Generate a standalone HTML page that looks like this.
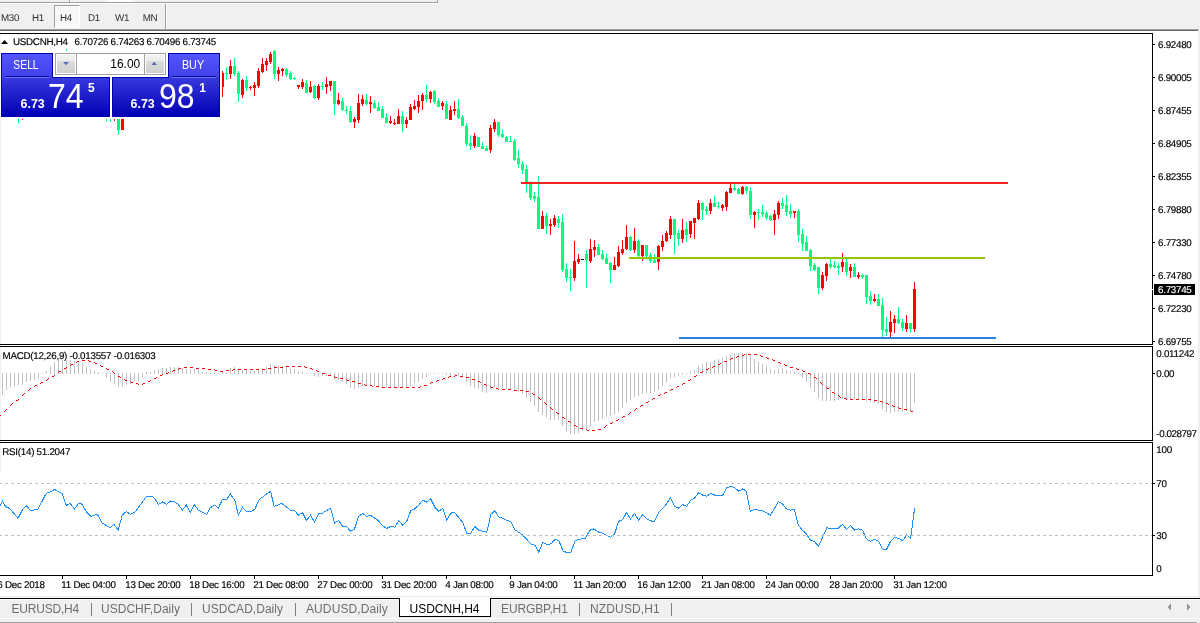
<!DOCTYPE html>
<html><head><meta charset="utf-8"><title>USDCNH,H4</title><style>
html,body{margin:0;padding:0}
body{width:1200px;height:623px;overflow:hidden;background:#fff;position:relative;font-family:"Liberation Sans",sans-serif}
div{position:absolute;box-sizing:border-box}
.t{white-space:nowrap;font-size:9.8px;letter-spacing:-0.27px;line-height:12px;color:#000;text-rendering:geometricPrecision;-webkit-text-stroke:0.15px #000}
.tb{white-space:nowrap;font-size:9.8px;letter-spacing:-0.27px;line-height:12px;color:#303030;text-rendering:geometricPrecision;width:28px;text-align:center;top:13px}
.tab{white-space:nowrap;font-size:12px;line-height:14px;color:#6e6e6e;top:602px}
.sep{top:603px;width:1px;height:13px;background:#808080}
svg{position:absolute;left:0;top:0}
.pt{white-space:nowrap}</style></head><body>
<div style="left:0;top:0;width:1200px;height:29px;background:#f0f0f0"></div>
<div style="left:0;top:2px;width:438px;height:1px;background:#a0a0a0"></div>
<div style="left:0;top:3px;width:438px;height:1px;background:#fff"></div>
<div style="left:437px;top:0;width:1px;height:3px;background:#a0a0a0"></div>
<div style="left:69px;top:0;width:1px;height:2px;background:#a0a0a0"></div>
<div style="left:70px;top:0;width:1px;height:2px;background:#fff"></div>
<div style="left:107px;top:0;width:26px;height:2px;background:#fff"></div>
<div style="left:0;top:29px;width:1199px;height:1px;background:#a0a0a0"></div>
<div style="left:0;top:30px;width:1198px;height:1px;background:#696969"></div>
<div style="left:1198px;top:30px;width:2px;height:593px;background:#f0f0f0"></div>
<div style="left:0;top:34px;width:1px;height:440px;background:#f2f2f2"></div>
<div style="left:54px;top:5px;width:26px;height:23px;background:#f8f8f8;border-left:1px solid #a0a0a0;border-top:1px solid #a0a0a0;border-right:1px solid #fff;border-bottom:1px solid #fff"></div>
<div class="tb" style="left:-4px">M30</div>
<div class="tb" style="left:24px">H1</div>
<div class="tb" style="left:52px">H4</div>
<div class="tb" style="left:80px">D1</div>
<div class="tb" style="left:108px">W1</div>
<div class="tb" style="left:136px">MN</div>
<div style="left:165px;top:4px;width:1px;height:25px;background:#a0a0a0"></div>
<div style="left:166px;top:4px;width:1px;height:25px;background:#fff"></div>
<svg width="1200" height="623" shape-rendering="crispEdges">
<rect x="2" y="373" width="1" height="22" fill="#c0c0c0"/>
<rect x="6" y="373" width="1" height="17" fill="#c0c0c0"/>
<rect x="10" y="373" width="1" height="14" fill="#c0c0c0"/>
<rect x="14" y="373" width="1" height="13" fill="#c0c0c0"/>
<rect x="18" y="373" width="1" height="12" fill="#c0c0c0"/>
<rect x="22" y="373" width="1" height="12" fill="#c0c0c0"/>
<rect x="26" y="373" width="1" height="9" fill="#c0c0c0"/>
<rect x="30" y="373" width="1" height="8" fill="#c0c0c0"/>
<rect x="34" y="373" width="1" height="7" fill="#c0c0c0"/>
<rect x="38" y="373" width="1" height="5" fill="#c0c0c0"/>
<rect x="42" y="373" width="1" height="1" fill="#c0c0c0"/>
<rect x="46" y="371" width="1" height="3" fill="#c0c0c0"/>
<rect x="50" y="367" width="1" height="7" fill="#c0c0c0"/>
<rect x="54" y="362" width="1" height="12" fill="#c0c0c0"/>
<rect x="58" y="360" width="1" height="14" fill="#c0c0c0"/>
<rect x="62" y="360" width="1" height="14" fill="#c0c0c0"/>
<rect x="66" y="360" width="1" height="14" fill="#c0c0c0"/>
<rect x="70" y="360" width="1" height="14" fill="#c0c0c0"/>
<rect x="74" y="361" width="1" height="13" fill="#c0c0c0"/>
<rect x="78" y="362" width="1" height="12" fill="#c0c0c0"/>
<rect x="82" y="363" width="1" height="11" fill="#c0c0c0"/>
<rect x="86" y="366" width="1" height="8" fill="#c0c0c0"/>
<rect x="90" y="369" width="1" height="5" fill="#c0c0c0"/>
<rect x="94" y="371" width="1" height="3" fill="#c0c0c0"/>
<rect x="98" y="372" width="1" height="2" fill="#c0c0c0"/>
<rect x="102" y="373" width="1" height="1" fill="#c0c0c0"/>
<rect x="106" y="373" width="1" height="5" fill="#c0c0c0"/>
<rect x="110" y="373" width="1" height="9" fill="#c0c0c0"/>
<rect x="114" y="373" width="1" height="11" fill="#c0c0c0"/>
<rect x="118" y="373" width="1" height="14" fill="#c0c0c0"/>
<rect x="122" y="373" width="1" height="14" fill="#c0c0c0"/>
<rect x="126" y="373" width="1" height="12" fill="#c0c0c0"/>
<rect x="130" y="373" width="1" height="11" fill="#c0c0c0"/>
<rect x="134" y="373" width="1" height="8" fill="#c0c0c0"/>
<rect x="138" y="373" width="1" height="8" fill="#c0c0c0"/>
<rect x="142" y="373" width="1" height="5" fill="#c0c0c0"/>
<rect x="146" y="372" width="1" height="2" fill="#c0c0c0"/>
<rect x="150" y="372" width="1" height="2" fill="#c0c0c0"/>
<rect x="154" y="370" width="1" height="4" fill="#c0c0c0"/>
<rect x="158" y="369" width="1" height="5" fill="#c0c0c0"/>
<rect x="162" y="368" width="1" height="6" fill="#c0c0c0"/>
<rect x="166" y="368" width="1" height="6" fill="#c0c0c0"/>
<rect x="170" y="367" width="1" height="7" fill="#c0c0c0"/>
<rect x="174" y="367" width="1" height="7" fill="#c0c0c0"/>
<rect x="178" y="367" width="1" height="7" fill="#c0c0c0"/>
<rect x="182" y="368" width="1" height="6" fill="#c0c0c0"/>
<rect x="186" y="369" width="1" height="5" fill="#c0c0c0"/>
<rect x="190" y="369" width="1" height="5" fill="#c0c0c0"/>
<rect x="194" y="369" width="1" height="5" fill="#c0c0c0"/>
<rect x="198" y="370" width="1" height="4" fill="#c0c0c0"/>
<rect x="202" y="372" width="1" height="2" fill="#c0c0c0"/>
<rect x="206" y="372" width="1" height="2" fill="#c0c0c0"/>
<rect x="210" y="373" width="1" height="1" fill="#c0c0c0"/>
<rect x="214" y="373" width="1" height="1" fill="#c0c0c0"/>
<rect x="218" y="373" width="1" height="1" fill="#c0c0c0"/>
<rect x="222" y="372" width="1" height="2" fill="#c0c0c0"/>
<rect x="226" y="372" width="1" height="2" fill="#c0c0c0"/>
<rect x="230" y="368" width="1" height="6" fill="#c0c0c0"/>
<rect x="234" y="367" width="1" height="7" fill="#c0c0c0"/>
<rect x="238" y="369" width="1" height="5" fill="#c0c0c0"/>
<rect x="242" y="370" width="1" height="4" fill="#c0c0c0"/>
<rect x="246" y="370" width="1" height="4" fill="#c0c0c0"/>
<rect x="250" y="371" width="1" height="3" fill="#c0c0c0"/>
<rect x="254" y="371" width="1" height="3" fill="#c0c0c0"/>
<rect x="258" y="370" width="1" height="4" fill="#c0c0c0"/>
<rect x="262" y="368" width="1" height="6" fill="#c0c0c0"/>
<rect x="266" y="367" width="1" height="7" fill="#c0c0c0"/>
<rect x="270" y="364" width="1" height="10" fill="#c0c0c0"/>
<rect x="274" y="365" width="1" height="9" fill="#c0c0c0"/>
<rect x="278" y="366" width="1" height="8" fill="#c0c0c0"/>
<rect x="282" y="366" width="1" height="8" fill="#c0c0c0"/>
<rect x="286" y="367" width="1" height="7" fill="#c0c0c0"/>
<rect x="290" y="368" width="1" height="6" fill="#c0c0c0"/>
<rect x="294" y="369" width="1" height="5" fill="#c0c0c0"/>
<rect x="298" y="371" width="1" height="3" fill="#c0c0c0"/>
<rect x="302" y="372" width="1" height="2" fill="#c0c0c0"/>
<rect x="306" y="373" width="1" height="1" fill="#c0c0c0"/>
<rect x="310" y="373" width="1" height="1" fill="#c0c0c0"/>
<rect x="314" y="373" width="1" height="3" fill="#c0c0c0"/>
<rect x="318" y="373" width="1" height="4" fill="#c0c0c0"/>
<rect x="322" y="373" width="1" height="3" fill="#c0c0c0"/>
<rect x="326" y="373" width="1" height="3" fill="#c0c0c0"/>
<rect x="330" y="373" width="1" height="3" fill="#c0c0c0"/>
<rect x="334" y="373" width="1" height="6" fill="#c0c0c0"/>
<rect x="338" y="373" width="1" height="7" fill="#c0c0c0"/>
<rect x="342" y="373" width="1" height="9" fill="#c0c0c0"/>
<rect x="346" y="373" width="1" height="11" fill="#c0c0c0"/>
<rect x="350" y="373" width="1" height="15" fill="#c0c0c0"/>
<rect x="354" y="373" width="1" height="16" fill="#c0c0c0"/>
<rect x="358" y="373" width="1" height="15" fill="#c0c0c0"/>
<rect x="362" y="373" width="1" height="13" fill="#c0c0c0"/>
<rect x="366" y="373" width="1" height="13" fill="#c0c0c0"/>
<rect x="370" y="373" width="1" height="13" fill="#c0c0c0"/>
<rect x="374" y="373" width="1" height="13" fill="#c0c0c0"/>
<rect x="378" y="373" width="1" height="14" fill="#c0c0c0"/>
<rect x="382" y="373" width="1" height="15" fill="#c0c0c0"/>
<rect x="386" y="373" width="1" height="15" fill="#c0c0c0"/>
<rect x="390" y="373" width="1" height="15" fill="#c0c0c0"/>
<rect x="394" y="373" width="1" height="15" fill="#c0c0c0"/>
<rect x="398" y="373" width="1" height="15" fill="#c0c0c0"/>
<rect x="402" y="373" width="1" height="15" fill="#c0c0c0"/>
<rect x="406" y="373" width="1" height="15" fill="#c0c0c0"/>
<rect x="410" y="373" width="1" height="13" fill="#c0c0c0"/>
<rect x="414" y="373" width="1" height="10" fill="#c0c0c0"/>
<rect x="418" y="373" width="1" height="9" fill="#c0c0c0"/>
<rect x="422" y="373" width="1" height="6" fill="#c0c0c0"/>
<rect x="426" y="373" width="1" height="4" fill="#c0c0c0"/>
<rect x="430" y="373" width="1" height="1" fill="#c0c0c0"/>
<rect x="434" y="373" width="1" height="1" fill="#c0c0c0"/>
<rect x="438" y="373" width="1" height="1" fill="#c0c0c0"/>
<rect x="442" y="373" width="1" height="1" fill="#c0c0c0"/>
<rect x="446" y="373" width="1" height="2" fill="#c0c0c0"/>
<rect x="450" y="373" width="1" height="3" fill="#c0c0c0"/>
<rect x="454" y="373" width="1" height="2" fill="#c0c0c0"/>
<rect x="458" y="373" width="1" height="3" fill="#c0c0c0"/>
<rect x="462" y="373" width="1" height="4" fill="#c0c0c0"/>
<rect x="466" y="373" width="1" height="9" fill="#c0c0c0"/>
<rect x="470" y="373" width="1" height="13" fill="#c0c0c0"/>
<rect x="474" y="373" width="1" height="15" fill="#c0c0c0"/>
<rect x="478" y="373" width="1" height="16" fill="#c0c0c0"/>
<rect x="482" y="373" width="1" height="19" fill="#c0c0c0"/>
<rect x="486" y="373" width="1" height="20" fill="#c0c0c0"/>
<rect x="490" y="373" width="1" height="16" fill="#c0c0c0"/>
<rect x="494" y="373" width="1" height="15" fill="#c0c0c0"/>
<rect x="498" y="373" width="1" height="15" fill="#c0c0c0"/>
<rect x="502" y="373" width="1" height="15" fill="#c0c0c0"/>
<rect x="506" y="373" width="1" height="16" fill="#c0c0c0"/>
<rect x="510" y="373" width="1" height="17" fill="#c0c0c0"/>
<rect x="514" y="373" width="1" height="18" fill="#c0c0c0"/>
<rect x="518" y="373" width="1" height="19" fill="#c0c0c0"/>
<rect x="522" y="373" width="1" height="21" fill="#c0c0c0"/>
<rect x="526" y="373" width="1" height="25" fill="#c0c0c0"/>
<rect x="530" y="373" width="1" height="29" fill="#c0c0c0"/>
<rect x="534" y="373" width="1" height="33" fill="#c0c0c0"/>
<rect x="538" y="373" width="1" height="39" fill="#c0c0c0"/>
<rect x="542" y="373" width="1" height="42" fill="#c0c0c0"/>
<rect x="546" y="373" width="1" height="44" fill="#c0c0c0"/>
<rect x="550" y="373" width="1" height="47" fill="#c0c0c0"/>
<rect x="554" y="373" width="1" height="47" fill="#c0c0c0"/>
<rect x="558" y="373" width="1" height="47" fill="#c0c0c0"/>
<rect x="562" y="373" width="1" height="53" fill="#c0c0c0"/>
<rect x="566" y="373" width="1" height="59" fill="#c0c0c0"/>
<rect x="570" y="373" width="1" height="61" fill="#c0c0c0"/>
<rect x="574" y="373" width="1" height="61" fill="#c0c0c0"/>
<rect x="578" y="373" width="1" height="60" fill="#c0c0c0"/>
<rect x="582" y="373" width="1" height="58" fill="#c0c0c0"/>
<rect x="586" y="373" width="1" height="57" fill="#c0c0c0"/>
<rect x="590" y="373" width="1" height="53" fill="#c0c0c0"/>
<rect x="594" y="373" width="1" height="49" fill="#c0c0c0"/>
<rect x="598" y="373" width="1" height="48" fill="#c0c0c0"/>
<rect x="602" y="373" width="1" height="46" fill="#c0c0c0"/>
<rect x="606" y="373" width="1" height="44" fill="#c0c0c0"/>
<rect x="610" y="373" width="1" height="43" fill="#c0c0c0"/>
<rect x="614" y="373" width="1" height="41" fill="#c0c0c0"/>
<rect x="618" y="373" width="1" height="39" fill="#c0c0c0"/>
<rect x="622" y="373" width="1" height="35" fill="#c0c0c0"/>
<rect x="626" y="373" width="1" height="30" fill="#c0c0c0"/>
<rect x="630" y="373" width="1" height="27" fill="#c0c0c0"/>
<rect x="634" y="373" width="1" height="24" fill="#c0c0c0"/>
<rect x="638" y="373" width="1" height="23" fill="#c0c0c0"/>
<rect x="642" y="373" width="1" height="21" fill="#c0c0c0"/>
<rect x="646" y="373" width="1" height="20" fill="#c0c0c0"/>
<rect x="650" y="373" width="1" height="20" fill="#c0c0c0"/>
<rect x="654" y="373" width="1" height="19" fill="#c0c0c0"/>
<rect x="658" y="373" width="1" height="17" fill="#c0c0c0"/>
<rect x="662" y="373" width="1" height="13" fill="#c0c0c0"/>
<rect x="666" y="373" width="1" height="10" fill="#c0c0c0"/>
<rect x="670" y="373" width="1" height="5" fill="#c0c0c0"/>
<rect x="674" y="373" width="1" height="4" fill="#c0c0c0"/>
<rect x="678" y="373" width="1" height="3" fill="#c0c0c0"/>
<rect x="682" y="373" width="1" height="2" fill="#c0c0c0"/>
<rect x="686" y="373" width="1" height="1" fill="#c0c0c0"/>
<rect x="690" y="372" width="1" height="2" fill="#c0c0c0"/>
<rect x="694" y="370" width="1" height="4" fill="#c0c0c0"/>
<rect x="698" y="366" width="1" height="8" fill="#c0c0c0"/>
<rect x="702" y="364" width="1" height="10" fill="#c0c0c0"/>
<rect x="706" y="362" width="1" height="12" fill="#c0c0c0"/>
<rect x="710" y="362" width="1" height="12" fill="#c0c0c0"/>
<rect x="714" y="360" width="1" height="14" fill="#c0c0c0"/>
<rect x="718" y="359" width="1" height="15" fill="#c0c0c0"/>
<rect x="722" y="358" width="1" height="16" fill="#c0c0c0"/>
<rect x="726" y="356" width="1" height="18" fill="#c0c0c0"/>
<rect x="730" y="355" width="1" height="19" fill="#c0c0c0"/>
<rect x="734" y="353" width="1" height="21" fill="#c0c0c0"/>
<rect x="738" y="353" width="1" height="21" fill="#c0c0c0"/>
<rect x="742" y="353" width="1" height="21" fill="#c0c0c0"/>
<rect x="746" y="353" width="1" height="21" fill="#c0c0c0"/>
<rect x="750" y="356" width="1" height="18" fill="#c0c0c0"/>
<rect x="754" y="359" width="1" height="15" fill="#c0c0c0"/>
<rect x="758" y="362" width="1" height="12" fill="#c0c0c0"/>
<rect x="762" y="364" width="1" height="10" fill="#c0c0c0"/>
<rect x="766" y="366" width="1" height="8" fill="#c0c0c0"/>
<rect x="770" y="369" width="1" height="5" fill="#c0c0c0"/>
<rect x="774" y="370" width="1" height="4" fill="#c0c0c0"/>
<rect x="778" y="369" width="1" height="5" fill="#c0c0c0"/>
<rect x="782" y="368" width="1" height="6" fill="#c0c0c0"/>
<rect x="786" y="370" width="1" height="4" fill="#c0c0c0"/>
<rect x="790" y="372" width="1" height="2" fill="#c0c0c0"/>
<rect x="794" y="372" width="1" height="2" fill="#c0c0c0"/>
<rect x="798" y="373" width="1" height="1" fill="#c0c0c0"/>
<rect x="802" y="373" width="1" height="5" fill="#c0c0c0"/>
<rect x="806" y="373" width="1" height="9" fill="#c0c0c0"/>
<rect x="810" y="373" width="1" height="15" fill="#c0c0c0"/>
<rect x="814" y="373" width="1" height="19" fill="#c0c0c0"/>
<rect x="818" y="373" width="1" height="25" fill="#c0c0c0"/>
<rect x="822" y="373" width="1" height="28" fill="#c0c0c0"/>
<rect x="826" y="373" width="1" height="28" fill="#c0c0c0"/>
<rect x="830" y="373" width="1" height="28" fill="#c0c0c0"/>
<rect x="834" y="373" width="1" height="28" fill="#c0c0c0"/>
<rect x="838" y="373" width="1" height="27" fill="#c0c0c0"/>
<rect x="842" y="373" width="1" height="26" fill="#c0c0c0"/>
<rect x="846" y="373" width="1" height="26" fill="#c0c0c0"/>
<rect x="850" y="373" width="1" height="26" fill="#c0c0c0"/>
<rect x="854" y="373" width="1" height="26" fill="#c0c0c0"/>
<rect x="858" y="373" width="1" height="27" fill="#c0c0c0"/>
<rect x="862" y="373" width="1" height="27" fill="#c0c0c0"/>
<rect x="866" y="373" width="1" height="28" fill="#c0c0c0"/>
<rect x="870" y="373" width="1" height="29" fill="#c0c0c0"/>
<rect x="874" y="373" width="1" height="30" fill="#c0c0c0"/>
<rect x="878" y="373" width="1" height="31" fill="#c0c0c0"/>
<rect x="882" y="373" width="1" height="36" fill="#c0c0c0"/>
<rect x="886" y="373" width="1" height="39" fill="#c0c0c0"/>
<rect x="890" y="373" width="1" height="40" fill="#c0c0c0"/>
<rect x="894" y="373" width="1" height="39" fill="#c0c0c0"/>
<rect x="898" y="373" width="1" height="39" fill="#c0c0c0"/>
<rect x="902" y="373" width="1" height="39" fill="#c0c0c0"/>
<rect x="906" y="373" width="1" height="38" fill="#c0c0c0"/>
<rect x="910" y="373" width="1" height="38" fill="#c0c0c0"/>
<rect x="914" y="373" width="1" height="30" fill="#c0c0c0"/>
<rect x="222" y="71" width="1" height="26" fill="#ff0000"/>
<rect x="221" y="73" width="3" height="14" fill="#ff0000"/>
<rect x="226" y="67" width="1" height="13" fill="#00ff7f"/>
<rect x="225" y="73" width="3" height="1" fill="#00ff7f"/>
<rect x="230" y="60" width="1" height="19" fill="#ff0000"/>
<rect x="229" y="66" width="3" height="8" fill="#ff0000"/>
<rect x="234" y="58" width="1" height="18" fill="#00ff7f"/>
<rect x="233" y="66" width="3" height="8" fill="#00ff7f"/>
<rect x="238" y="71" width="1" height="31" fill="#00ff7f"/>
<rect x="237" y="73" width="3" height="21" fill="#00ff7f"/>
<rect x="242" y="79" width="1" height="19" fill="#ff0000"/>
<rect x="241" y="80" width="3" height="15" fill="#ff0000"/>
<rect x="246" y="76" width="1" height="15" fill="#00ff7f"/>
<rect x="245" y="80" width="3" height="8" fill="#00ff7f"/>
<rect x="250" y="86" width="1" height="4" fill="#ff0000"/>
<rect x="249" y="87" width="3" height="1" fill="#ff0000"/>
<rect x="254" y="82" width="1" height="14" fill="#ff0000"/>
<rect x="253" y="85" width="3" height="3" fill="#ff0000"/>
<rect x="258" y="68" width="1" height="20" fill="#ff0000"/>
<rect x="257" y="71" width="3" height="15" fill="#ff0000"/>
<rect x="262" y="58" width="1" height="15" fill="#ff0000"/>
<rect x="261" y="64" width="3" height="8" fill="#ff0000"/>
<rect x="266" y="58" width="1" height="13" fill="#ff0000"/>
<rect x="265" y="61" width="3" height="4" fill="#ff0000"/>
<rect x="270" y="52" width="1" height="12" fill="#ff0000"/>
<rect x="269" y="54" width="3" height="8" fill="#ff0000"/>
<rect x="274" y="50" width="1" height="29" fill="#00ff7f"/>
<rect x="273" y="51" width="3" height="23" fill="#00ff7f"/>
<rect x="278" y="67" width="1" height="14" fill="#ff0000"/>
<rect x="277" y="70" width="3" height="4" fill="#ff0000"/>
<rect x="282" y="68" width="1" height="8" fill="#ff0000"/>
<rect x="281" y="69" width="3" height="2" fill="#ff0000"/>
<rect x="286" y="68" width="1" height="9" fill="#00ff7f"/>
<rect x="285" y="69" width="3" height="6" fill="#00ff7f"/>
<rect x="290" y="71" width="1" height="9" fill="#00ff7f"/>
<rect x="289" y="73" width="3" height="6" fill="#00ff7f"/>
<rect x="294" y="77" width="1" height="3" fill="#00ff7f"/>
<rect x="293" y="78" width="3" height="1" fill="#00ff7f"/>
<rect x="298" y="85" width="1" height="4" fill="#ff0000"/>
<rect x="297" y="85" width="3" height="2" fill="#ff0000"/>
<rect x="302" y="79" width="1" height="10" fill="#ff0000"/>
<rect x="301" y="82" width="3" height="5" fill="#ff0000"/>
<rect x="306" y="80" width="1" height="13" fill="#00ff7f"/>
<rect x="305" y="83" width="3" height="10" fill="#00ff7f"/>
<rect x="310" y="81" width="1" height="12" fill="#ff0000"/>
<rect x="309" y="87" width="3" height="5" fill="#ff0000"/>
<rect x="314" y="85" width="1" height="14" fill="#00ff7f"/>
<rect x="313" y="86" width="3" height="12" fill="#00ff7f"/>
<rect x="318" y="84" width="1" height="16" fill="#ff0000"/>
<rect x="317" y="86" width="3" height="12" fill="#ff0000"/>
<rect x="322" y="82" width="1" height="8" fill="#00ff7f"/>
<rect x="321" y="86" width="3" height="1" fill="#00ff7f"/>
<rect x="326" y="77" width="1" height="17" fill="#ff0000"/>
<rect x="325" y="84" width="3" height="3" fill="#ff0000"/>
<rect x="330" y="81" width="1" height="10" fill="#ff0000"/>
<rect x="329" y="81" width="3" height="5" fill="#ff0000"/>
<rect x="334" y="81" width="1" height="34" fill="#00ff7f"/>
<rect x="333" y="81" width="3" height="23" fill="#00ff7f"/>
<rect x="338" y="93" width="1" height="12" fill="#ff0000"/>
<rect x="337" y="100" width="3" height="4" fill="#ff0000"/>
<rect x="342" y="98" width="1" height="13" fill="#00ff7f"/>
<rect x="341" y="101" width="3" height="9" fill="#00ff7f"/>
<rect x="346" y="106" width="1" height="8" fill="#00ff7f"/>
<rect x="345" y="110" width="3" height="1" fill="#00ff7f"/>
<rect x="350" y="106" width="1" height="17" fill="#00ff7f"/>
<rect x="349" y="111" width="3" height="11" fill="#00ff7f"/>
<rect x="354" y="117" width="1" height="11" fill="#ff0000"/>
<rect x="353" y="119" width="3" height="3" fill="#ff0000"/>
<rect x="358" y="94" width="1" height="29" fill="#ff0000"/>
<rect x="357" y="103" width="3" height="17" fill="#ff0000"/>
<rect x="362" y="95" width="1" height="11" fill="#ff0000"/>
<rect x="361" y="99" width="3" height="5" fill="#ff0000"/>
<rect x="366" y="94" width="1" height="11" fill="#00ff7f"/>
<rect x="365" y="100" width="3" height="4" fill="#00ff7f"/>
<rect x="370" y="96" width="1" height="17" fill="#ff0000"/>
<rect x="369" y="102" width="3" height="2" fill="#ff0000"/>
<rect x="374" y="100" width="1" height="9" fill="#00ff7f"/>
<rect x="373" y="103" width="3" height="5" fill="#00ff7f"/>
<rect x="378" y="102" width="1" height="9" fill="#00ff7f"/>
<rect x="377" y="107" width="3" height="4" fill="#00ff7f"/>
<rect x="382" y="106" width="1" height="12" fill="#00ff7f"/>
<rect x="381" y="109" width="3" height="9" fill="#00ff7f"/>
<rect x="386" y="113" width="1" height="10" fill="#00ff7f"/>
<rect x="385" y="117" width="3" height="6" fill="#00ff7f"/>
<rect x="390" y="116" width="1" height="8" fill="#ff0000"/>
<rect x="389" y="121" width="3" height="2" fill="#ff0000"/>
<rect x="394" y="119" width="1" height="6" fill="#ff0000"/>
<rect x="393" y="123" width="3" height="1" fill="#ff0000"/>
<rect x="398" y="109" width="1" height="15" fill="#ff0000"/>
<rect x="397" y="116" width="3" height="8" fill="#ff0000"/>
<rect x="402" y="111" width="1" height="21" fill="#00ff7f"/>
<rect x="401" y="116" width="3" height="8" fill="#00ff7f"/>
<rect x="406" y="117" width="1" height="11" fill="#ff0000"/>
<rect x="405" y="120" width="3" height="4" fill="#ff0000"/>
<rect x="410" y="104" width="1" height="16" fill="#ff0000"/>
<rect x="409" y="107" width="3" height="13" fill="#ff0000"/>
<rect x="414" y="100" width="1" height="10" fill="#ff0000"/>
<rect x="413" y="106" width="3" height="3" fill="#ff0000"/>
<rect x="418" y="95" width="1" height="18" fill="#ff0000"/>
<rect x="417" y="101" width="3" height="6" fill="#ff0000"/>
<rect x="422" y="93" width="1" height="17" fill="#ff0000"/>
<rect x="421" y="95" width="3" height="6" fill="#ff0000"/>
<rect x="426" y="85" width="1" height="17" fill="#00ff7f"/>
<rect x="425" y="95" width="3" height="4" fill="#00ff7f"/>
<rect x="430" y="91" width="1" height="12" fill="#ff0000"/>
<rect x="429" y="92" width="3" height="7" fill="#ff0000"/>
<rect x="434" y="90" width="1" height="14" fill="#00ff7f"/>
<rect x="433" y="91" width="3" height="11" fill="#00ff7f"/>
<rect x="438" y="98" width="1" height="9" fill="#00ff7f"/>
<rect x="437" y="101" width="3" height="6" fill="#00ff7f"/>
<rect x="442" y="101" width="1" height="9" fill="#ff0000"/>
<rect x="441" y="103" width="3" height="3" fill="#ff0000"/>
<rect x="446" y="101" width="1" height="18" fill="#00ff7f"/>
<rect x="445" y="104" width="3" height="15" fill="#00ff7f"/>
<rect x="450" y="106" width="1" height="14" fill="#ff0000"/>
<rect x="449" y="110" width="3" height="10" fill="#ff0000"/>
<rect x="454" y="101" width="1" height="14" fill="#ff0000"/>
<rect x="453" y="109" width="3" height="2" fill="#ff0000"/>
<rect x="458" y="99" width="1" height="20" fill="#00ff7f"/>
<rect x="457" y="109" width="3" height="9" fill="#00ff7f"/>
<rect x="462" y="115" width="1" height="11" fill="#00ff7f"/>
<rect x="461" y="117" width="3" height="9" fill="#00ff7f"/>
<rect x="466" y="123" width="1" height="23" fill="#00ff7f"/>
<rect x="465" y="126" width="3" height="18" fill="#00ff7f"/>
<rect x="470" y="135" width="1" height="15" fill="#00ff7f"/>
<rect x="469" y="143" width="3" height="3" fill="#00ff7f"/>
<rect x="474" y="133" width="1" height="15" fill="#ff0000"/>
<rect x="473" y="136" width="3" height="10" fill="#ff0000"/>
<rect x="478" y="137" width="1" height="10" fill="#00ff7f"/>
<rect x="477" y="137" width="3" height="10" fill="#00ff7f"/>
<rect x="482" y="142" width="1" height="7" fill="#00ff7f"/>
<rect x="481" y="146" width="3" height="3" fill="#00ff7f"/>
<rect x="486" y="146" width="1" height="5" fill="#00ff7f"/>
<rect x="485" y="148" width="3" height="3" fill="#00ff7f"/>
<rect x="490" y="125" width="1" height="28" fill="#ff0000"/>
<rect x="489" y="128" width="3" height="22" fill="#ff0000"/>
<rect x="494" y="119" width="1" height="13" fill="#ff0000"/>
<rect x="493" y="122" width="3" height="7" fill="#ff0000"/>
<rect x="498" y="122" width="1" height="15" fill="#00ff7f"/>
<rect x="497" y="122" width="3" height="13" fill="#00ff7f"/>
<rect x="502" y="129" width="1" height="9" fill="#00ff7f"/>
<rect x="501" y="134" width="3" height="3" fill="#00ff7f"/>
<rect x="506" y="136" width="1" height="6" fill="#00ff7f"/>
<rect x="505" y="137" width="3" height="5" fill="#00ff7f"/>
<rect x="510" y="136" width="1" height="6" fill="#00ff7f"/>
<rect x="509" y="141" width="3" height="1" fill="#00ff7f"/>
<rect x="514" y="139" width="1" height="22" fill="#00ff7f"/>
<rect x="513" y="141" width="3" height="19" fill="#00ff7f"/>
<rect x="518" y="150" width="1" height="18" fill="#00ff7f"/>
<rect x="517" y="158" width="3" height="6" fill="#00ff7f"/>
<rect x="522" y="161" width="1" height="13" fill="#00ff7f"/>
<rect x="521" y="164" width="3" height="6" fill="#00ff7f"/>
<rect x="526" y="165" width="1" height="28" fill="#00ff7f"/>
<rect x="525" y="169" width="3" height="13" fill="#00ff7f"/>
<rect x="530" y="181" width="1" height="19" fill="#00ff7f"/>
<rect x="529" y="183" width="3" height="15" fill="#00ff7f"/>
<rect x="534" y="192" width="1" height="10" fill="#00ff7f"/>
<rect x="533" y="196" width="3" height="3" fill="#00ff7f"/>
<rect x="538" y="176" width="1" height="53" fill="#00ff7f"/>
<rect x="537" y="197" width="3" height="32" fill="#00ff7f"/>
<rect x="542" y="211" width="1" height="18" fill="#ff0000"/>
<rect x="541" y="216" width="3" height="13" fill="#ff0000"/>
<rect x="546" y="213" width="1" height="21" fill="#00ff7f"/>
<rect x="545" y="216" width="3" height="10" fill="#00ff7f"/>
<rect x="550" y="219" width="1" height="16" fill="#ff0000"/>
<rect x="549" y="224" width="3" height="2" fill="#ff0000"/>
<rect x="554" y="215" width="1" height="12" fill="#ff0000"/>
<rect x="553" y="218" width="3" height="7" fill="#ff0000"/>
<rect x="558" y="216" width="1" height="12" fill="#00ff7f"/>
<rect x="557" y="219" width="3" height="4" fill="#00ff7f"/>
<rect x="562" y="214" width="1" height="58" fill="#00ff7f"/>
<rect x="561" y="222" width="3" height="48" fill="#00ff7f"/>
<rect x="566" y="263" width="1" height="19" fill="#00ff7f"/>
<rect x="565" y="269" width="3" height="9" fill="#00ff7f"/>
<rect x="570" y="269" width="1" height="22" fill="#00ff7f"/>
<rect x="569" y="277" width="3" height="1" fill="#00ff7f"/>
<rect x="574" y="241" width="1" height="40" fill="#ff0000"/>
<rect x="573" y="261" width="3" height="17" fill="#ff0000"/>
<rect x="578" y="254" width="1" height="10" fill="#ff0000"/>
<rect x="577" y="259" width="3" height="3" fill="#ff0000"/>
<rect x="581" y="259" width="3" height="1" fill="#000000"/>
<rect x="586" y="250" width="1" height="38" fill="#00ff7f"/>
<rect x="585" y="254" width="3" height="6" fill="#00ff7f"/>
<rect x="590" y="239" width="1" height="24" fill="#ff0000"/>
<rect x="589" y="249" width="3" height="12" fill="#ff0000"/>
<rect x="594" y="240" width="1" height="17" fill="#ff0000"/>
<rect x="593" y="247" width="3" height="3" fill="#ff0000"/>
<rect x="598" y="244" width="1" height="11" fill="#00ff7f"/>
<rect x="597" y="247" width="3" height="8" fill="#00ff7f"/>
<rect x="602" y="250" width="1" height="10" fill="#00ff7f"/>
<rect x="601" y="254" width="3" height="5" fill="#00ff7f"/>
<rect x="606" y="254" width="1" height="10" fill="#00ff7f"/>
<rect x="605" y="258" width="3" height="6" fill="#00ff7f"/>
<rect x="610" y="262" width="1" height="21" fill="#00ff7f"/>
<rect x="609" y="263" width="3" height="7" fill="#00ff7f"/>
<rect x="614" y="257" width="1" height="13" fill="#ff0000"/>
<rect x="613" y="265" width="3" height="5" fill="#ff0000"/>
<rect x="618" y="246" width="1" height="21" fill="#ff0000"/>
<rect x="617" y="252" width="3" height="14" fill="#ff0000"/>
<rect x="622" y="240" width="1" height="15" fill="#ff0000"/>
<rect x="621" y="249" width="3" height="4" fill="#ff0000"/>
<rect x="626" y="225" width="1" height="25" fill="#ff0000"/>
<rect x="625" y="237" width="3" height="12" fill="#ff0000"/>
<rect x="630" y="236" width="1" height="15" fill="#00ff7f"/>
<rect x="629" y="237" width="3" height="13" fill="#00ff7f"/>
<rect x="634" y="228" width="1" height="25" fill="#ff0000"/>
<rect x="633" y="241" width="3" height="9" fill="#ff0000"/>
<rect x="638" y="239" width="1" height="18" fill="#00ff7f"/>
<rect x="637" y="241" width="3" height="15" fill="#00ff7f"/>
<rect x="642" y="245" width="1" height="16" fill="#ff0000"/>
<rect x="641" y="245" width="3" height="11" fill="#ff0000"/>
<rect x="646" y="245" width="1" height="12" fill="#00ff7f"/>
<rect x="645" y="245" width="3" height="11" fill="#00ff7f"/>
<rect x="650" y="253" width="1" height="10" fill="#00ff7f"/>
<rect x="649" y="255" width="3" height="6" fill="#00ff7f"/>
<rect x="654" y="254" width="1" height="9" fill="#00ff7f"/>
<rect x="653" y="260" width="3" height="3" fill="#00ff7f"/>
<rect x="658" y="245" width="1" height="25" fill="#ff0000"/>
<rect x="657" y="246" width="3" height="16" fill="#ff0000"/>
<rect x="662" y="235" width="1" height="16" fill="#ff0000"/>
<rect x="661" y="241" width="3" height="6" fill="#ff0000"/>
<rect x="666" y="231" width="1" height="11" fill="#ff0000"/>
<rect x="665" y="233" width="3" height="8" fill="#ff0000"/>
<rect x="670" y="216" width="1" height="23" fill="#ff0000"/>
<rect x="669" y="219" width="3" height="16" fill="#ff0000"/>
<rect x="674" y="219" width="1" height="35" fill="#00ff7f"/>
<rect x="673" y="219" width="3" height="16" fill="#00ff7f"/>
<rect x="678" y="230" width="1" height="16" fill="#00ff7f"/>
<rect x="677" y="233" width="3" height="6" fill="#00ff7f"/>
<rect x="682" y="219" width="1" height="24" fill="#ff0000"/>
<rect x="681" y="230" width="3" height="9" fill="#ff0000"/>
<rect x="686" y="222" width="1" height="20" fill="#00ff7f"/>
<rect x="685" y="229" width="3" height="6" fill="#00ff7f"/>
<rect x="690" y="221" width="1" height="17" fill="#ff0000"/>
<rect x="689" y="221" width="3" height="13" fill="#ff0000"/>
<rect x="694" y="218" width="1" height="21" fill="#ff0000"/>
<rect x="693" y="218" width="3" height="5" fill="#ff0000"/>
<rect x="698" y="200" width="1" height="20" fill="#ff0000"/>
<rect x="697" y="203" width="3" height="16" fill="#ff0000"/>
<rect x="702" y="202" width="1" height="18" fill="#00ff7f"/>
<rect x="701" y="203" width="3" height="7" fill="#00ff7f"/>
<rect x="706" y="206" width="1" height="9" fill="#00ff7f"/>
<rect x="705" y="209" width="3" height="2" fill="#00ff7f"/>
<rect x="710" y="199" width="1" height="15" fill="#ff0000"/>
<rect x="709" y="203" width="3" height="8" fill="#ff0000"/>
<rect x="714" y="196" width="1" height="11" fill="#00ff7f"/>
<rect x="713" y="203" width="3" height="4" fill="#00ff7f"/>
<rect x="718" y="202" width="1" height="7" fill="#00ff7f"/>
<rect x="717" y="206" width="3" height="1" fill="#00ff7f"/>
<rect x="722" y="204" width="1" height="7" fill="#ff0000"/>
<rect x="721" y="205" width="3" height="3" fill="#ff0000"/>
<rect x="726" y="191" width="1" height="20" fill="#ff0000"/>
<rect x="725" y="192" width="3" height="15" fill="#ff0000"/>
<rect x="730" y="184" width="1" height="9" fill="#ff0000"/>
<rect x="729" y="188" width="3" height="5" fill="#ff0000"/>
<rect x="734" y="184" width="1" height="7" fill="#00ff7f"/>
<rect x="733" y="188" width="3" height="2" fill="#00ff7f"/>
<rect x="738" y="188" width="1" height="6" fill="#00ff7f"/>
<rect x="737" y="189" width="3" height="5" fill="#00ff7f"/>
<rect x="742" y="186" width="1" height="9" fill="#ff0000"/>
<rect x="741" y="187" width="3" height="7" fill="#ff0000"/>
<rect x="746" y="186" width="1" height="8" fill="#00ff7f"/>
<rect x="745" y="187" width="3" height="4" fill="#00ff7f"/>
<rect x="750" y="187" width="1" height="32" fill="#00ff7f"/>
<rect x="749" y="191" width="3" height="24" fill="#00ff7f"/>
<rect x="754" y="211" width="1" height="17" fill="#ff0000"/>
<rect x="753" y="212" width="3" height="3" fill="#ff0000"/>
<rect x="758" y="209" width="1" height="11" fill="#00ff7f"/>
<rect x="757" y="212" width="3" height="1" fill="#00ff7f"/>
<rect x="762" y="205" width="1" height="12" fill="#00ff7f"/>
<rect x="761" y="212" width="3" height="2" fill="#00ff7f"/>
<rect x="766" y="211" width="1" height="9" fill="#00ff7f"/>
<rect x="765" y="213" width="3" height="5" fill="#00ff7f"/>
<rect x="770" y="215" width="1" height="6" fill="#00ff7f"/>
<rect x="769" y="216" width="3" height="4" fill="#00ff7f"/>
<rect x="774" y="210" width="1" height="25" fill="#ff0000"/>
<rect x="773" y="214" width="3" height="6" fill="#ff0000"/>
<rect x="778" y="201" width="1" height="18" fill="#ff0000"/>
<rect x="777" y="203" width="3" height="12" fill="#ff0000"/>
<rect x="782" y="198" width="1" height="11" fill="#00ff7f"/>
<rect x="781" y="203" width="3" height="3" fill="#00ff7f"/>
<rect x="786" y="195" width="1" height="21" fill="#00ff7f"/>
<rect x="785" y="205" width="3" height="7" fill="#00ff7f"/>
<rect x="790" y="204" width="1" height="14" fill="#00ff7f"/>
<rect x="789" y="211" width="3" height="3" fill="#00ff7f"/>
<rect x="794" y="211" width="1" height="7" fill="#ff0000"/>
<rect x="793" y="211" width="3" height="2" fill="#ff0000"/>
<rect x="798" y="209" width="1" height="33" fill="#00ff7f"/>
<rect x="797" y="211" width="3" height="24" fill="#00ff7f"/>
<rect x="802" y="229" width="1" height="22" fill="#00ff7f"/>
<rect x="801" y="234" width="3" height="10" fill="#00ff7f"/>
<rect x="806" y="236" width="1" height="15" fill="#00ff7f"/>
<rect x="805" y="242" width="3" height="9" fill="#00ff7f"/>
<rect x="810" y="249" width="1" height="22" fill="#00ff7f"/>
<rect x="809" y="250" width="3" height="16" fill="#00ff7f"/>
<rect x="814" y="263" width="1" height="8" fill="#00ff7f"/>
<rect x="813" y="265" width="3" height="5" fill="#00ff7f"/>
<rect x="818" y="267" width="1" height="27" fill="#00ff7f"/>
<rect x="817" y="267" width="3" height="21" fill="#00ff7f"/>
<rect x="822" y="272" width="1" height="18" fill="#ff0000"/>
<rect x="821" y="275" width="3" height="13" fill="#ff0000"/>
<rect x="826" y="263" width="1" height="18" fill="#ff0000"/>
<rect x="825" y="264" width="3" height="12" fill="#ff0000"/>
<rect x="830" y="258" width="1" height="11" fill="#00ff7f"/>
<rect x="829" y="264" width="3" height="3" fill="#00ff7f"/>
<rect x="834" y="261" width="1" height="7" fill="#00ff7f"/>
<rect x="833" y="265" width="3" height="2" fill="#00ff7f"/>
<rect x="838" y="263" width="1" height="12" fill="#00ff7f"/>
<rect x="837" y="266" width="3" height="2" fill="#00ff7f"/>
<rect x="842" y="253" width="1" height="19" fill="#ff0000"/>
<rect x="841" y="262" width="3" height="5" fill="#ff0000"/>
<rect x="846" y="259" width="1" height="17" fill="#00ff7f"/>
<rect x="845" y="262" width="3" height="10" fill="#00ff7f"/>
<rect x="850" y="264" width="1" height="14" fill="#ff0000"/>
<rect x="849" y="267" width="3" height="4" fill="#ff0000"/>
<rect x="854" y="263" width="1" height="14" fill="#00ff7f"/>
<rect x="853" y="267" width="3" height="10" fill="#00ff7f"/>
<rect x="858" y="272" width="1" height="7" fill="#ff0000"/>
<rect x="857" y="275" width="3" height="2" fill="#ff0000"/>
<rect x="862" y="274" width="1" height="5" fill="#00ff7f"/>
<rect x="861" y="275" width="3" height="2" fill="#00ff7f"/>
<rect x="866" y="275" width="1" height="29" fill="#00ff7f"/>
<rect x="865" y="275" width="3" height="22" fill="#00ff7f"/>
<rect x="870" y="291" width="1" height="14" fill="#00ff7f"/>
<rect x="869" y="296" width="3" height="5" fill="#00ff7f"/>
<rect x="874" y="294" width="1" height="8" fill="#ff0000"/>
<rect x="873" y="299" width="3" height="2" fill="#ff0000"/>
<rect x="878" y="294" width="1" height="12" fill="#00ff7f"/>
<rect x="877" y="299" width="3" height="7" fill="#00ff7f"/>
<rect x="882" y="298" width="1" height="39" fill="#00ff7f"/>
<rect x="881" y="305" width="3" height="25" fill="#00ff7f"/>
<rect x="886" y="317" width="1" height="19" fill="#00ff7f"/>
<rect x="885" y="329" width="3" height="3" fill="#00ff7f"/>
<rect x="890" y="311" width="1" height="26" fill="#ff0000"/>
<rect x="889" y="322" width="3" height="10" fill="#ff0000"/>
<rect x="894" y="315" width="1" height="18" fill="#ff0000"/>
<rect x="893" y="319" width="3" height="4" fill="#ff0000"/>
<rect x="898" y="307" width="1" height="17" fill="#00ff7f"/>
<rect x="897" y="319" width="3" height="4" fill="#00ff7f"/>
<rect x="902" y="319" width="1" height="12" fill="#00ff7f"/>
<rect x="901" y="322" width="3" height="6" fill="#00ff7f"/>
<rect x="906" y="315" width="1" height="17" fill="#ff0000"/>
<rect x="905" y="323" width="3" height="6" fill="#ff0000"/>
<rect x="910" y="323" width="1" height="10" fill="#00ff7f"/>
<rect x="909" y="323" width="3" height="6" fill="#00ff7f"/>
<rect x="914" y="282" width="1" height="50" fill="#ff0000"/>
<rect x="913" y="289" width="3" height="40" fill="#ff0000"/>
<rect x="66" y="49" width="1" height="2" fill="#00ff7f"/>
<rect x="18" y="119" width="1" height="4" fill="#00ff7f"/>
<rect x="22" y="119" width="1" height="1" fill="#ff0000"/>
<rect x="106" y="119" width="1" height="2" fill="#00ff7f"/>
<rect x="110" y="119" width="1" height="3" fill="#00ff7f"/>
<rect x="114" y="119" width="1" height="2" fill="#ff0000"/>
<rect x="117" y="119" width="3" height="11" fill="#00ff7f"/>
<rect x="118" y="130" width="1" height="5" fill="#00ff7f"/>
<rect x="121" y="119" width="3" height="11" fill="#ff0000"/>
<rect x="521" y="182" width="487" height="2" fill="#f92222"/>
<rect x="629" y="257" width="356" height="2" fill="#92c800"/>
<rect x="679" y="337" width="317" height="2" fill="#2a82dc"/>
<rect x="0" y="415" width="1" height="1" fill="#ff0000"/>
<rect x="4" y="411" width="1" height="1" fill="#ff0000"/>
<rect x="5" y="410" width="1" height="1" fill="#ff0000"/>
<rect x="6" y="409" width="1" height="1" fill="#ff0000"/>
<rect x="10" y="405" width="1" height="1" fill="#ff0000"/>
<rect x="11" y="404" width="1" height="1" fill="#ff0000"/>
<rect x="12" y="403" width="1" height="1" fill="#ff0000"/>
<rect x="16" y="400" width="2" height="1" fill="#ff0000"/>
<rect x="18" y="399" width="1" height="1" fill="#ff0000"/>
<rect x="22" y="395" width="1" height="1" fill="#ff0000"/>
<rect x="23" y="394" width="1" height="1" fill="#ff0000"/>
<rect x="24" y="393" width="1" height="1" fill="#ff0000"/>
<rect x="28" y="390" width="1" height="1" fill="#ff0000"/>
<rect x="29" y="389" width="1" height="1" fill="#ff0000"/>
<rect x="30" y="388" width="1" height="1" fill="#ff0000"/>
<rect x="34" y="386" width="1" height="1" fill="#ff0000"/>
<rect x="35" y="385" width="2" height="1" fill="#ff0000"/>
<rect x="40" y="383" width="1" height="1" fill="#ff0000"/>
<rect x="41" y="382" width="2" height="1" fill="#ff0000"/>
<rect x="46" y="380" width="1" height="1" fill="#ff0000"/>
<rect x="47" y="379" width="1" height="1" fill="#ff0000"/>
<rect x="48" y="378" width="1" height="1" fill="#ff0000"/>
<rect x="52" y="376" width="2" height="1" fill="#ff0000"/>
<rect x="54" y="375" width="1" height="1" fill="#ff0000"/>
<rect x="58" y="372" width="1" height="1" fill="#ff0000"/>
<rect x="59" y="371" width="2" height="1" fill="#ff0000"/>
<rect x="64" y="368" width="2" height="1" fill="#ff0000"/>
<rect x="66" y="367" width="1" height="1" fill="#ff0000"/>
<rect x="70" y="365" width="1" height="1" fill="#ff0000"/>
<rect x="71" y="364" width="2" height="1" fill="#ff0000"/>
<rect x="76" y="362" width="1" height="1" fill="#ff0000"/>
<rect x="77" y="361" width="2" height="1" fill="#ff0000"/>
<rect x="82" y="360" width="3" height="1" fill="#ff0000"/>
<rect x="88" y="360" width="1" height="1" fill="#ff0000"/>
<rect x="89" y="361" width="2" height="1" fill="#ff0000"/>
<rect x="94" y="362" width="1" height="1" fill="#ff0000"/>
<rect x="95" y="363" width="2" height="1" fill="#ff0000"/>
<rect x="100" y="365" width="1" height="1" fill="#ff0000"/>
<rect x="101" y="366" width="2" height="1" fill="#ff0000"/>
<rect x="106" y="368" width="1" height="1" fill="#ff0000"/>
<rect x="107" y="369" width="2" height="1" fill="#ff0000"/>
<rect x="112" y="371" width="1" height="1" fill="#ff0000"/>
<rect x="113" y="372" width="1" height="1" fill="#ff0000"/>
<rect x="114" y="373" width="1" height="1" fill="#ff0000"/>
<rect x="118" y="376" width="2" height="1" fill="#ff0000"/>
<rect x="120" y="377" width="1" height="1" fill="#ff0000"/>
<rect x="124" y="379" width="1" height="1" fill="#ff0000"/>
<rect x="125" y="380" width="2" height="1" fill="#ff0000"/>
<rect x="130" y="381" width="1" height="1" fill="#ff0000"/>
<rect x="131" y="382" width="2" height="1" fill="#ff0000"/>
<rect x="136" y="383" width="2" height="1" fill="#ff0000"/>
<rect x="138" y="384" width="1" height="1" fill="#ff0000"/>
<rect x="142" y="384" width="1" height="1" fill="#ff0000"/>
<rect x="143" y="383" width="2" height="1" fill="#ff0000"/>
<rect x="148" y="381" width="2" height="1" fill="#ff0000"/>
<rect x="150" y="380" width="1" height="1" fill="#ff0000"/>
<rect x="154" y="378" width="2" height="1" fill="#ff0000"/>
<rect x="156" y="377" width="1" height="1" fill="#ff0000"/>
<rect x="160" y="375" width="2" height="1" fill="#ff0000"/>
<rect x="162" y="374" width="1" height="1" fill="#ff0000"/>
<rect x="166" y="373" width="2" height="1" fill="#ff0000"/>
<rect x="168" y="372" width="1" height="1" fill="#ff0000"/>
<rect x="172" y="371" width="1" height="1" fill="#ff0000"/>
<rect x="173" y="370" width="2" height="1" fill="#ff0000"/>
<rect x="178" y="369" width="1" height="1" fill="#ff0000"/>
<rect x="179" y="368" width="2" height="1" fill="#ff0000"/>
<rect x="184" y="367" width="3" height="1" fill="#ff0000"/>
<rect x="190" y="367" width="3" height="1" fill="#ff0000"/>
<rect x="196" y="368" width="3" height="1" fill="#ff0000"/>
<rect x="202" y="368" width="3" height="1" fill="#ff0000"/>
<rect x="208" y="369" width="3" height="1" fill="#ff0000"/>
<rect x="214" y="369" width="1" height="1" fill="#ff0000"/>
<rect x="215" y="370" width="2" height="1" fill="#ff0000"/>
<rect x="220" y="371" width="3" height="1" fill="#ff0000"/>
<rect x="226" y="370" width="3" height="1" fill="#ff0000"/>
<rect x="232" y="370" width="1" height="1" fill="#ff0000"/>
<rect x="233" y="369" width="2" height="1" fill="#ff0000"/>
<rect x="238" y="369" width="3" height="1" fill="#ff0000"/>
<rect x="244" y="369" width="3" height="1" fill="#ff0000"/>
<rect x="250" y="369" width="3" height="1" fill="#ff0000"/>
<rect x="256" y="369" width="3" height="1" fill="#ff0000"/>
<rect x="262" y="369" width="3" height="1" fill="#ff0000"/>
<rect x="268" y="368" width="3" height="1" fill="#ff0000"/>
<rect x="274" y="367" width="3" height="1" fill="#ff0000"/>
<rect x="280" y="367" width="3" height="1" fill="#ff0000"/>
<rect x="286" y="366" width="3" height="1" fill="#ff0000"/>
<rect x="292" y="366" width="3" height="1" fill="#ff0000"/>
<rect x="298" y="366" width="3" height="1" fill="#ff0000"/>
<rect x="304" y="366" width="1" height="1" fill="#ff0000"/>
<rect x="305" y="367" width="2" height="1" fill="#ff0000"/>
<rect x="310" y="368" width="2" height="1" fill="#ff0000"/>
<rect x="312" y="369" width="1" height="1" fill="#ff0000"/>
<rect x="316" y="370" width="1" height="1" fill="#ff0000"/>
<rect x="317" y="371" width="2" height="1" fill="#ff0000"/>
<rect x="322" y="373" width="3" height="1" fill="#ff0000"/>
<rect x="328" y="375" width="3" height="1" fill="#ff0000"/>
<rect x="334" y="376" width="1" height="1" fill="#ff0000"/>
<rect x="335" y="377" width="2" height="1" fill="#ff0000"/>
<rect x="340" y="378" width="3" height="1" fill="#ff0000"/>
<rect x="346" y="379" width="1" height="1" fill="#ff0000"/>
<rect x="347" y="380" width="2" height="1" fill="#ff0000"/>
<rect x="352" y="381" width="3" height="1" fill="#ff0000"/>
<rect x="358" y="383" width="3" height="1" fill="#ff0000"/>
<rect x="364" y="384" width="1" height="1" fill="#ff0000"/>
<rect x="365" y="385" width="2" height="1" fill="#ff0000"/>
<rect x="370" y="385" width="2" height="1" fill="#ff0000"/>
<rect x="372" y="386" width="1" height="1" fill="#ff0000"/>
<rect x="376" y="386" width="3" height="1" fill="#ff0000"/>
<rect x="382" y="387" width="3" height="1" fill="#ff0000"/>
<rect x="388" y="387" width="3" height="1" fill="#ff0000"/>
<rect x="394" y="387" width="3" height="1" fill="#ff0000"/>
<rect x="400" y="387" width="3" height="1" fill="#ff0000"/>
<rect x="406" y="387" width="3" height="1" fill="#ff0000"/>
<rect x="412" y="387" width="3" height="1" fill="#ff0000"/>
<rect x="418" y="387" width="2" height="1" fill="#ff0000"/>
<rect x="420" y="386" width="1" height="1" fill="#ff0000"/>
<rect x="424" y="385" width="3" height="1" fill="#ff0000"/>
<rect x="430" y="383" width="1" height="1" fill="#ff0000"/>
<rect x="431" y="382" width="2" height="1" fill="#ff0000"/>
<rect x="436" y="381" width="1" height="1" fill="#ff0000"/>
<rect x="437" y="380" width="2" height="1" fill="#ff0000"/>
<rect x="442" y="379" width="1" height="1" fill="#ff0000"/>
<rect x="443" y="378" width="2" height="1" fill="#ff0000"/>
<rect x="448" y="377" width="1" height="1" fill="#ff0000"/>
<rect x="449" y="376" width="2" height="1" fill="#ff0000"/>
<rect x="454" y="376" width="1" height="1" fill="#ff0000"/>
<rect x="455" y="375" width="2" height="1" fill="#ff0000"/>
<rect x="460" y="376" width="3" height="1" fill="#ff0000"/>
<rect x="466" y="377" width="3" height="1" fill="#ff0000"/>
<rect x="472" y="379" width="3" height="1" fill="#ff0000"/>
<rect x="478" y="381" width="2" height="1" fill="#ff0000"/>
<rect x="480" y="382" width="1" height="1" fill="#ff0000"/>
<rect x="484" y="384" width="2" height="1" fill="#ff0000"/>
<rect x="486" y="385" width="1" height="1" fill="#ff0000"/>
<rect x="490" y="386" width="1" height="1" fill="#ff0000"/>
<rect x="491" y="387" width="2" height="1" fill="#ff0000"/>
<rect x="496" y="388" width="2" height="1" fill="#ff0000"/>
<rect x="498" y="389" width="1" height="1" fill="#ff0000"/>
<rect x="502" y="389" width="3" height="1" fill="#ff0000"/>
<rect x="508" y="389" width="3" height="1" fill="#ff0000"/>
<rect x="514" y="390" width="3" height="1" fill="#ff0000"/>
<rect x="520" y="390" width="3" height="1" fill="#ff0000"/>
<rect x="526" y="391" width="3" height="1" fill="#ff0000"/>
<rect x="532" y="393" width="1" height="1" fill="#ff0000"/>
<rect x="533" y="394" width="2" height="1" fill="#ff0000"/>
<rect x="538" y="397" width="1" height="1" fill="#ff0000"/>
<rect x="539" y="398" width="1" height="1" fill="#ff0000"/>
<rect x="540" y="399" width="1" height="1" fill="#ff0000"/>
<rect x="544" y="402" width="1" height="1" fill="#ff0000"/>
<rect x="545" y="403" width="1" height="1" fill="#ff0000"/>
<rect x="546" y="404" width="1" height="1" fill="#ff0000"/>
<rect x="550" y="407" width="1" height="1" fill="#ff0000"/>
<rect x="551" y="408" width="1" height="1" fill="#ff0000"/>
<rect x="552" y="409" width="1" height="1" fill="#ff0000"/>
<rect x="556" y="412" width="1" height="1" fill="#ff0000"/>
<rect x="557" y="413" width="2" height="1" fill="#ff0000"/>
<rect x="562" y="417" width="2" height="1" fill="#ff0000"/>
<rect x="564" y="418" width="1" height="1" fill="#ff0000"/>
<rect x="568" y="421" width="2" height="1" fill="#ff0000"/>
<rect x="570" y="422" width="1" height="1" fill="#ff0000"/>
<rect x="574" y="425" width="2" height="1" fill="#ff0000"/>
<rect x="576" y="426" width="1" height="1" fill="#ff0000"/>
<rect x="580" y="428" width="3" height="1" fill="#ff0000"/>
<rect x="586" y="429" width="1" height="1" fill="#ff0000"/>
<rect x="587" y="430" width="2" height="1" fill="#ff0000"/>
<rect x="592" y="430" width="3" height="1" fill="#ff0000"/>
<rect x="598" y="429" width="3" height="1" fill="#ff0000"/>
<rect x="604" y="427" width="1" height="1" fill="#ff0000"/>
<rect x="605" y="426" width="1" height="1" fill="#ff0000"/>
<rect x="606" y="425" width="1" height="1" fill="#ff0000"/>
<rect x="610" y="423" width="2" height="1" fill="#ff0000"/>
<rect x="612" y="422" width="1" height="1" fill="#ff0000"/>
<rect x="616" y="420" width="2" height="1" fill="#ff0000"/>
<rect x="618" y="419" width="1" height="1" fill="#ff0000"/>
<rect x="622" y="417" width="1" height="1" fill="#ff0000"/>
<rect x="623" y="416" width="2" height="1" fill="#ff0000"/>
<rect x="628" y="414" width="1" height="1" fill="#ff0000"/>
<rect x="629" y="413" width="1" height="1" fill="#ff0000"/>
<rect x="630" y="412" width="1" height="1" fill="#ff0000"/>
<rect x="634" y="410" width="1" height="1" fill="#ff0000"/>
<rect x="635" y="409" width="1" height="1" fill="#ff0000"/>
<rect x="636" y="408" width="1" height="1" fill="#ff0000"/>
<rect x="640" y="406" width="1" height="1" fill="#ff0000"/>
<rect x="641" y="405" width="2" height="1" fill="#ff0000"/>
<rect x="646" y="402" width="2" height="1" fill="#ff0000"/>
<rect x="648" y="401" width="1" height="1" fill="#ff0000"/>
<rect x="652" y="399" width="1" height="1" fill="#ff0000"/>
<rect x="653" y="398" width="2" height="1" fill="#ff0000"/>
<rect x="658" y="395" width="2" height="1" fill="#ff0000"/>
<rect x="660" y="394" width="1" height="1" fill="#ff0000"/>
<rect x="664" y="393" width="1" height="1" fill="#ff0000"/>
<rect x="665" y="392" width="2" height="1" fill="#ff0000"/>
<rect x="670" y="390" width="1" height="1" fill="#ff0000"/>
<rect x="671" y="389" width="2" height="1" fill="#ff0000"/>
<rect x="676" y="387" width="1" height="1" fill="#ff0000"/>
<rect x="677" y="386" width="2" height="1" fill="#ff0000"/>
<rect x="682" y="384" width="1" height="1" fill="#ff0000"/>
<rect x="683" y="383" width="2" height="1" fill="#ff0000"/>
<rect x="688" y="380" width="2" height="1" fill="#ff0000"/>
<rect x="690" y="379" width="1" height="1" fill="#ff0000"/>
<rect x="694" y="376" width="2" height="1" fill="#ff0000"/>
<rect x="696" y="375" width="1" height="1" fill="#ff0000"/>
<rect x="700" y="372" width="2" height="1" fill="#ff0000"/>
<rect x="702" y="371" width="1" height="1" fill="#ff0000"/>
<rect x="706" y="369" width="2" height="1" fill="#ff0000"/>
<rect x="708" y="368" width="1" height="1" fill="#ff0000"/>
<rect x="712" y="367" width="1" height="1" fill="#ff0000"/>
<rect x="713" y="366" width="2" height="1" fill="#ff0000"/>
<rect x="718" y="364" width="2" height="1" fill="#ff0000"/>
<rect x="720" y="363" width="1" height="1" fill="#ff0000"/>
<rect x="724" y="361" width="3" height="1" fill="#ff0000"/>
<rect x="730" y="359" width="1" height="1" fill="#ff0000"/>
<rect x="731" y="358" width="2" height="1" fill="#ff0000"/>
<rect x="736" y="357" width="1" height="1" fill="#ff0000"/>
<rect x="737" y="356" width="2" height="1" fill="#ff0000"/>
<rect x="742" y="355" width="2" height="1" fill="#ff0000"/>
<rect x="744" y="354" width="1" height="1" fill="#ff0000"/>
<rect x="748" y="354" width="3" height="1" fill="#ff0000"/>
<rect x="754" y="354" width="3" height="1" fill="#ff0000"/>
<rect x="760" y="355" width="1" height="1" fill="#ff0000"/>
<rect x="761" y="356" width="2" height="1" fill="#ff0000"/>
<rect x="766" y="357" width="1" height="1" fill="#ff0000"/>
<rect x="767" y="358" width="2" height="1" fill="#ff0000"/>
<rect x="772" y="359" width="1" height="1" fill="#ff0000"/>
<rect x="773" y="360" width="2" height="1" fill="#ff0000"/>
<rect x="778" y="362" width="2" height="1" fill="#ff0000"/>
<rect x="780" y="363" width="1" height="1" fill="#ff0000"/>
<rect x="784" y="364" width="1" height="1" fill="#ff0000"/>
<rect x="785" y="365" width="2" height="1" fill="#ff0000"/>
<rect x="790" y="367" width="3" height="1" fill="#ff0000"/>
<rect x="796" y="368" width="1" height="1" fill="#ff0000"/>
<rect x="797" y="369" width="2" height="1" fill="#ff0000"/>
<rect x="802" y="370" width="1" height="1" fill="#ff0000"/>
<rect x="803" y="371" width="2" height="1" fill="#ff0000"/>
<rect x="808" y="373" width="2" height="1" fill="#ff0000"/>
<rect x="810" y="374" width="1" height="1" fill="#ff0000"/>
<rect x="814" y="377" width="2" height="1" fill="#ff0000"/>
<rect x="816" y="378" width="1" height="1" fill="#ff0000"/>
<rect x="820" y="382" width="1" height="1" fill="#ff0000"/>
<rect x="821" y="383" width="1" height="1" fill="#ff0000"/>
<rect x="822" y="384" width="1" height="1" fill="#ff0000"/>
<rect x="826" y="387" width="1" height="1" fill="#ff0000"/>
<rect x="827" y="388" width="2" height="1" fill="#ff0000"/>
<rect x="832" y="392" width="2" height="1" fill="#ff0000"/>
<rect x="834" y="393" width="1" height="1" fill="#ff0000"/>
<rect x="838" y="395" width="1" height="1" fill="#ff0000"/>
<rect x="839" y="396" width="1" height="1" fill="#ff0000"/>
<rect x="840" y="397" width="1" height="1" fill="#ff0000"/>
<rect x="844" y="398" width="2" height="1" fill="#ff0000"/>
<rect x="846" y="399" width="1" height="1" fill="#ff0000"/>
<rect x="850" y="399" width="3" height="1" fill="#ff0000"/>
<rect x="856" y="399" width="3" height="1" fill="#ff0000"/>
<rect x="862" y="399" width="3" height="1" fill="#ff0000"/>
<rect x="868" y="399" width="3" height="1" fill="#ff0000"/>
<rect x="874" y="400" width="3" height="1" fill="#ff0000"/>
<rect x="880" y="401" width="2" height="1" fill="#ff0000"/>
<rect x="882" y="402" width="1" height="1" fill="#ff0000"/>
<rect x="886" y="403" width="2" height="1" fill="#ff0000"/>
<rect x="888" y="404" width="1" height="1" fill="#ff0000"/>
<rect x="892" y="405" width="1" height="1" fill="#ff0000"/>
<rect x="893" y="406" width="2" height="1" fill="#ff0000"/>
<rect x="898" y="407" width="1" height="1" fill="#ff0000"/>
<rect x="899" y="408" width="2" height="1" fill="#ff0000"/>
<rect x="904" y="409" width="3" height="1" fill="#ff0000"/>
<rect x="910" y="410" width="1" height="1" fill="#ff0000"/>
<rect x="911" y="411" width="2" height="1" fill="#ff0000"/>
<polyline fill="none" stroke="#1e90ff" stroke-width="1" shape-rendering="crispEdges" points="0.0,505.6 2.5,500.9 5.5,506.4 10.0,508.9 18.0,518.4 22.5,509.6 26.3,505.6 30.6,510.6 38.1,509.1 46.3,493.1 50.1,492.1 54.6,489.3 58.1,491.8 62.1,493.3 66.4,505.6 70.1,503.4 74.4,508.9 78.4,503.6 81.4,503.6 86.4,511.9 90.7,516.4 97.2,514.1 102.2,523.1 110.2,527.7 113.9,524.4 118.2,530.2 122.2,515.1 126.5,511.4 130.2,514.4 135.2,511.9 146.5,496.3 152.3,496.3 154.8,498.4 158.3,504.4 162.8,501.9 166.5,504.4 170.8,500.9 174.6,501.9 178.3,504.4 182.3,510.1 186.3,505.1 190.3,512.6 194.3,504.4 198.3,510.1 206.6,514.4 210.4,507.6 214.6,505.1 218.4,508.1 222.4,499.4 226.6,499.4 230.4,494.1 234.7,500.1 238.4,515.1 242.4,507.1 246.7,511.9 250.4,511.9 254.7,509.4 259.2,499.4 263.0,496.8 266.7,493.8 270.5,491.3 274.2,506.4 281.7,503.4 286.8,507.1 290.5,510.6 294.5,510.6 298.5,515.1 302.5,512.6 306.5,520.6 310.5,515.1 314.5,522.1 318.5,513.9 322.6,513.1 330.6,508.1 334.6,523.1 338.6,520.6 342.6,526.4 346.6,526.4 350.6,531.4 354.6,528.9 358.6,516.4 362.6,513.4 366.6,516.4 370.1,515.1 377.7,520.1 382.7,525.9 386.7,528.4 390.7,526.4 394.7,527.2 398.7,520.6 402.7,525.1 406.7,521.4 410.7,510.6 414.7,508.9 418.7,505.1 422.7,500.1 426.7,502.1 430.7,498.9 434.8,507.1 438.8,511.4 442.8,508.1 446.8,520.1 450.8,513.1 454.8,512.6 462.8,522.6 466.8,533.2 470.8,533.2 474.8,526.4 478.8,530.2 486.8,532.2 490.9,514.4 494.9,510.6 498.9,517.1 502.9,518.4 506.9,520.6 510.9,521.4 514.9,529.7 522.9,535.2 530.9,543.9 534.9,545.2 538.9,552.2 542.9,542.2 546.9,544.4 551.0,543.9 555.0,539.4 559.0,540.9 563.0,550.9 567.0,552.7 571.0,552.2 575.0,540.9 579.0,539.4 585.0,538.4 590.0,530.2 593.8,528.9 598.8,532.2 602.5,533.2 610.6,537.2 614.6,533.9 618.6,521.4 622.6,519.6 626.6,512.6 630.6,518.9 634.6,513.4 638.6,520.1 642.6,514.6 646.6,518.9 654.1,522.1 658.6,512.6 666.7,503.9 670.2,497.6 674.7,506.4 678.7,508.1 682.7,504.6 686.7,506.4 690.7,500.1 694.7,498.1 698.7,492.6 702.7,495.1 706.7,496.3 710.7,493.3 714.7,495.1 722.7,495.1 726.8,487.6 730.8,486.3 734.8,487.6 738.8,491.3 742.8,488.8 746.3,491.3 750.3,511.4 754.3,509.4 758.3,510.1 762.3,510.6 766.3,512.6 770.3,515.1 774.3,508.9 778.3,501.4 782.4,503.9 786.4,508.9 790.4,510.1 794.4,509.4 798.4,525.1 802.4,530.2 806.4,533.9 810.4,540.2 814.4,541.4 818.4,546.4 822.4,537.7 826.9,527.7 830.4,528.4 838.0,528.4 842.5,524.4 846.5,529.4 850.5,525.6 854.5,530.2 858.5,528.9 862.5,530.2 866.5,538.9 870.5,541.4 874.5,539.4 878.5,541.4 882.5,548.9 886.5,549.4 890.6,541.4 894.6,537.7 898.6,538.2 902.6,540.7 906.6,535.2 910.6,538.2 914.6,508.1"/>
<line x1="-1" y1="483.5" x2="1152" y2="483.5" stroke="#c0c0c0" stroke-width="1" stroke-dasharray="3 3" shape-rendering="crispEdges"/>
<line x1="-1" y1="535.5" x2="1152" y2="535.5" stroke="#c0c0c0" stroke-width="1" stroke-dasharray="3 3" shape-rendering="crispEdges"/>
<rect x="0" y="33" width="1153" height="1" fill="#000"/>
<rect x="0" y="344" width="1153" height="1" fill="#000"/>
<rect x="0" y="346" width="1153" height="1" fill="#000"/>
<rect x="0" y="440" width="1153" height="1" fill="#000"/>
<rect x="0" y="442" width="1153" height="1" fill="#000"/>
<rect x="0" y="575" width="1153" height="1" fill="#000"/>
<rect x="1152" y="33" width="1" height="312" fill="#000"/>
<rect x="1152" y="346" width="1" height="95" fill="#000"/>
<rect x="1152" y="442" width="1" height="134" fill="#000"/>
<rect x="1153" y="44" width="2" height="1" fill="#000"/>
<rect x="1153" y="77" width="2" height="1" fill="#000"/>
<rect x="1153" y="110" width="2" height="1" fill="#000"/>
<rect x="1153" y="143" width="2" height="1" fill="#000"/>
<rect x="1153" y="176" width="2" height="1" fill="#000"/>
<rect x="1153" y="209" width="2" height="1" fill="#000"/>
<rect x="1153" y="242" width="2" height="1" fill="#000"/>
<rect x="1153" y="275" width="2" height="1" fill="#000"/>
<rect x="1153" y="308" width="2" height="1" fill="#000"/>
<rect x="1153" y="341" width="2" height="1" fill="#000"/>
<rect x="1153" y="373" width="2" height="1" fill="#000"/>
<rect x="1153" y="483" width="2" height="1" fill="#000"/>
<rect x="1153" y="535" width="2" height="1" fill="#000"/>
<rect x="62" y="576" width="1" height="3" fill="#000"/>
<rect x="126" y="576" width="1" height="3" fill="#000"/>
<rect x="190" y="576" width="1" height="3" fill="#000"/>
<rect x="254" y="576" width="1" height="3" fill="#000"/>
<rect x="318" y="576" width="1" height="3" fill="#000"/>
<rect x="382" y="576" width="1" height="3" fill="#000"/>
<rect x="446" y="576" width="1" height="3" fill="#000"/>
<rect x="510" y="576" width="1" height="3" fill="#000"/>
<rect x="574" y="576" width="1" height="3" fill="#000"/>
<rect x="638" y="576" width="1" height="3" fill="#000"/>
<rect x="702" y="576" width="1" height="3" fill="#000"/>
<rect x="766" y="576" width="1" height="3" fill="#000"/>
<rect x="830" y="576" width="1" height="3" fill="#000"/>
<rect x="894" y="576" width="1" height="3" fill="#000"/>
</svg>
<div class="t" style="left:1158px;top:40px;">6.92480</div>
<div class="t" style="left:1158px;top:73px;">6.90005</div>
<div class="t" style="left:1158px;top:106px;">6.87455</div>
<div class="t" style="left:1158px;top:139px;">6.84905</div>
<div class="t" style="left:1158px;top:172px;">6.82355</div>
<div class="t" style="left:1158px;top:205px;">6.79880</div>
<div class="t" style="left:1158px;top:238px;">6.77330</div>
<div class="t" style="left:1158px;top:271px;">6.74780</div>
<div class="t" style="left:1158px;top:304px;">6.72230</div>
<div class="t" style="left:1158px;top:337px;">6.69755</div>
<div class="t" style="left:1156.3px;top:349px;">0.011242</div>
<div class="t" style="left:1156.3px;top:369px;">0.00</div>
<div class="t" style="left:1156.3px;top:429px;letter-spacing:-0.42px">-0.028797</div>
<div class="t" style="left:1156.3px;top:445px;">100</div>
<div class="t" style="left:1156.3px;top:479px;">70</div>
<div class="t" style="left:1156.3px;top:531px;">30</div>
<div class="t" style="left:1156.3px;top:564px;">0</div>
<div class="t" style="left:13px;top:37px;">USDCNH,H4</div>
<div class="t" style="left:74.6px;top:37px;">6.70726 6.74263 6.70496 6.73745</div>
<div class="t" style="left:2.5px;top:351px;">MACD(12,26,9) -0.013557 -0.016303</div>
<div class="t" style="left:2.3px;top:447px;">RSI(14) 51.2047</div>
<div class="t" style="left:-2.7px;top:580px;">6 Dec 2018</div>
<div class="t" style="left:61.3px;top:580px;">11 Dec 04:00</div>
<div class="t" style="left:125.3px;top:580px;">13 Dec 20:00</div>
<div class="t" style="left:189.3px;top:580px;">18 Dec 16:00</div>
<div class="t" style="left:253.3px;top:580px;">21 Dec 08:00</div>
<div class="t" style="left:317.3px;top:580px;">27 Dec 00:00</div>
<div class="t" style="left:381.3px;top:580px;">31 Dec 20:00</div>
<div class="t" style="left:445.3px;top:580px;">4 Jan 08:00</div>
<div class="t" style="left:509.3px;top:580px;">9 Jan 04:00</div>
<div class="t" style="left:573.3px;top:580px;">11 Jan 20:00</div>
<div class="t" style="left:637.3px;top:580px;">16 Jan 12:00</div>
<div class="t" style="left:701.3px;top:580px;">21 Jan 08:00</div>
<div class="t" style="left:765.3px;top:580px;">24 Jan 00:00</div>
<div class="t" style="left:829.3px;top:580px;">28 Jan 20:00</div>
<div class="t" style="left:893.3px;top:580px;">31 Jan 12:00</div>
<div style="left:1154px;top:284px;width:41px;height:11px;background:#000"></div><div class="t" style="left:1158px;top:285px;color:#fff;-webkit-text-stroke:0.15px #fff">6.73745</div><div style="left:1152px;top:289px;width:2px;height:1px;background:#fff"></div>
<svg width="1200" height="623"><polygon points="1,44 8,44 4.5,40" fill="#000"/></svg>

<div style="left:0;top:51px;width:222px;height:68px;background:#fff"></div>
<div style="left:1px;top:53px;width:52px;height:25px;background:linear-gradient(#5555ff,#4040e8);border:1px solid #0000a8;border-bottom:none"></div>
<div style="left:168px;top:53px;width:52px;height:25px;background:linear-gradient(#5555ff,#4040e8);border:1px solid #0000a8;border-bottom:none"></div>
<div style="left:1px;top:77px;width:109px;height:40px;background:linear-gradient(#3a3ae0,#0000b4);border:1px solid #0000a8;border-top:none"></div>
<div style="left:112px;top:77px;width:108px;height:40px;background:linear-gradient(#3a3ae0,#0000b4);border:1px solid #0000a8;border-top:none"></div>
<div style="left:52px;top:77px;width:58px;height:1px;background:#0000a8"></div>
<div style="left:112px;top:77px;width:57px;height:1px;background:#0000a8"></div>
<div style="left:5px;top:76px;width:44px;height:1px;background:#0c0c8c"></div>
<div style="left:5px;top:77px;width:44px;height:1px;background:#7070ff"></div>
<div style="left:172px;top:76px;width:44px;height:1px;background:#0c0c8c"></div>
<div style="left:172px;top:77px;width:44px;height:1px;background:#7070ff"></div>
<div style="left:55px;top:53px;width:111px;height:22px;background:#fff;border:1px solid #a0a0a8"></div>
<div style="left:57px;top:55px;width:18px;height:18px;background:linear-gradient(#f2f2f2 0,#ebebeb 33%,#dcdcdc 34%,#cfcfcf 100%)"></div>
<div style="left:76px;top:54px;width:1px;height:20px;background:#a0a0a8"></div>
<div style="left:144px;top:54px;width:1px;height:20px;background:#a0a0a8"></div>
<div style="left:146px;top:55px;width:18px;height:18px;background:linear-gradient(#f2f2f2 0,#ebebeb 33%,#dcdcdc 34%,#cfcfcf 100%)"></div>
<svg width="1200" height="623"><polygon points="63.2,62 68.8,62 66,65.3" fill="#5566b4"/><polygon points="151.4,65 157,65 154.2,61.7" fill="#5566b4"/></svg>
<div class="pt" style="left:0.3px;top:58px;width:52px;text-align:center;font-size:12px;line-height:14px;color:#fff;transform:scaleX(0.86)">SELL</div>
<div class="pt" style="left:167px;top:58px;width:52px;text-align:center;font-size:12px;line-height:14px;color:#fff;transform:scaleX(0.9)">BUY</div>
<div class="pt" style="left:79.3px;top:57px;width:61px;text-align:right;font-size:12px;line-height:14px;color:#000">16.00</div>
<div class="pt" style="left:20.6px;top:96px;font-size:12.4px;line-height:16px;color:#fff;font-weight:bold">6.73</div>
<div class="pt" style="left:130.6px;top:96px;font-size:12.4px;line-height:16px;color:#fff;font-weight:bold">6.73</div>
<div class="pt" style="left:48px;top:77px;font-size:32px;line-height:36px;color:#fff;transform:scaleY(1.09);transform-origin:0 7px">74</div>
<div class="pt" style="left:159px;top:77px;font-size:32px;line-height:36px;color:#fff;transform:scaleY(1.09);transform-origin:0 7px">98</div>
<div class="pt" style="left:88px;top:81px;font-size:12px;line-height:14px;color:#fff;font-weight:bold">5</div>
<div class="pt" style="left:199.3px;top:81px;font-size:12px;line-height:14px;color:#fff;font-weight:bold">1</div>

<div style="left:0;top:596px;width:1198px;height:1px;background:#e8e8e8"></div>
<div style="left:0;top:598px;width:1200px;height:1px;background:#000"></div>
<div style="left:0;top:599px;width:1200px;height:1px;background:#fff"></div>
<div style="left:0;top:600px;width:1200px;height:18px;background:#f0f0f0"></div>
<div style="left:0;top:618px;width:1200px;height:1px;background:#fff"></div>
<div style="left:0;top:619px;width:1200px;height:3px;background:#f0f0f0"></div>
<div style="left:0;top:622px;width:1197px;height:1px;background:#a0a0a0"></div>
<div style="left:399px;top:598px;width:92px;height:19px;background:#fff;border-left:1px solid #000;border-right:1px solid #000;border-bottom:1px solid #000"></div>
<div class="tab" style="left:11.5px;letter-spacing:-0.2px">EURUSD,H4</div>
<div class="tab" style="left:101px;letter-spacing:0.03px">USDCHF,Daily</div>
<div class="tab" style="left:202px;letter-spacing:0.03px">USDCAD,Daily</div>
<div class="tab" style="left:306px;letter-spacing:0.1px">AUDUSD,Daily</div>
<div class="tab" style="left:501px;letter-spacing:-0.12px">EURGBP,H1</div>
<div class="tab" style="left:590px;letter-spacing:0.14px">NZDUSD,H1</div>
<div class="tab" style="left:409.5px;color:#000">USDCNH,H4</div>
<div class="sep" style="left:91px"></div>
<div class="sep" style="left:191px"></div>
<div class="sep" style="left:295px"></div>
<div class="sep" style="left:579px"></div>
<div class="sep" style="left:671px"></div>
<svg width="1200" height="623" style="pointer-events:none"><polygon points="1171,603.5 1171,610.5 1167.7,607" fill="#909090"/><polygon points="1187,603.5 1187,610.5 1190.3,607" fill="#909090"/></svg>
</body></html>
